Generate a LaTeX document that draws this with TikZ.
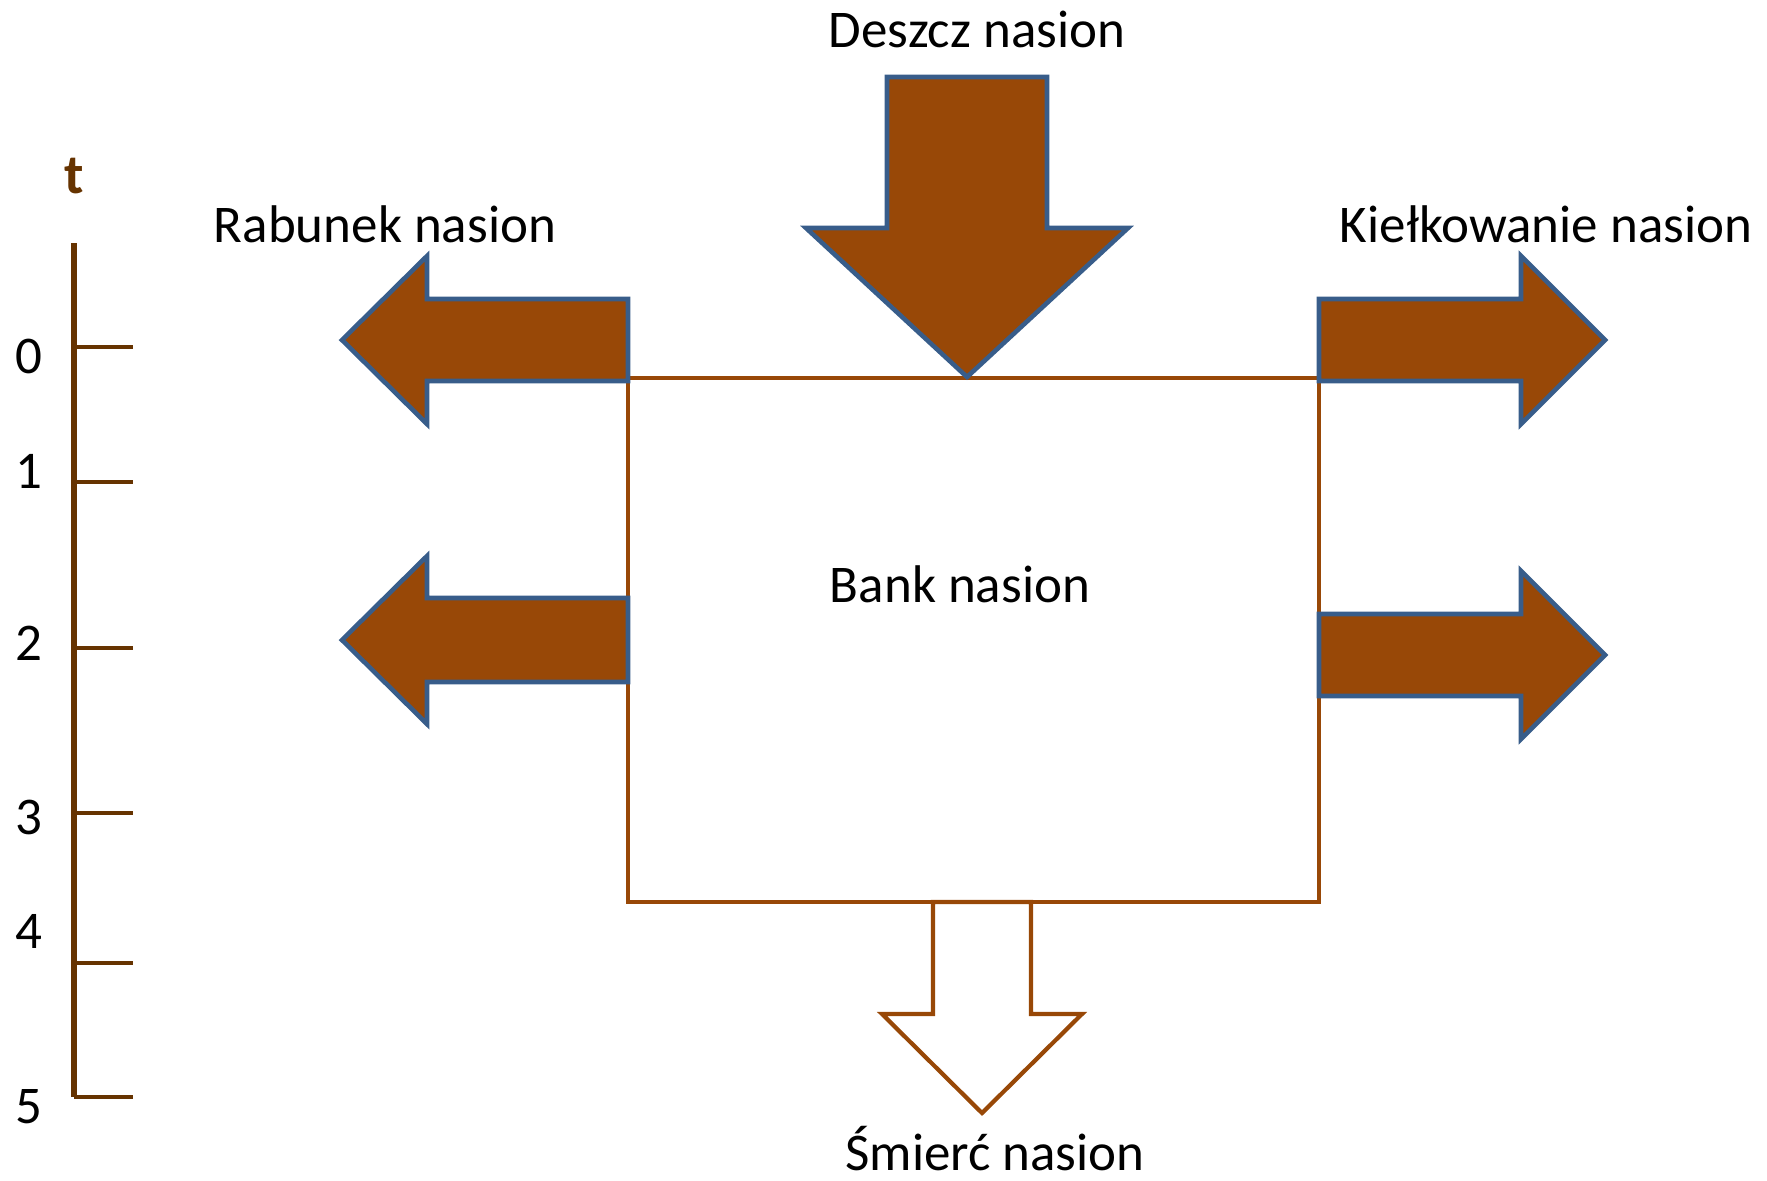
\documentclass[tikz,border=0pt]{standalone}
\usepackage{fontspec}
\setmainfont{Carlito}
\definecolor{braz}{HTML}{984807}
\definecolor{nieb}{HTML}{385D8A}
\definecolor{ciemny}{HTML}{663300}

\begin{document}
\begin{tikzpicture}[x=0.5pt,y=-0.5pt,line join=miter,font=\fontsize{26.5}{31}\selectfont]
    \tikzset{pelna/.style={draw=nieb,fill=braz,line width=2.3pt},
        pusta/.style={draw=braz,fill=white,line width=2.1pt},
        napis/.style={anchor=base,inner sep=0pt},
        os/.style={draw=ciemny,line width=2.8pt},
        kreska/.style={draw=ciemny,line width=2.2pt},
        pics/strzalka/.style n args={4}{code={\path[pic actions](0,-#1)--(#3,-#1)--(#3,-#2)--(#4,0)--(#3,#2)--(#3,#1)--(0,#1)--cycle;}}}
    \useasboundingbox (0,0) rectangle (1767,1180);

    % os czasu
    \draw[os] (74,243)--(74,1097);
    \foreach \y in {347,482,648,813,963,1097}{
        \draw[kreska] (74,\y)--(133,\y);}
    \foreach \y/\t in {373/0,488/1,660/2,834/3,948/4,1123/5}{
        \node[napis] (t\t) at (29,\y) {\t};}
    \node[napis,text=ciemny,font=\fontsize{28}{32}\selectfont\bfseries] (tt) at (74,193) {t};

    % bank
    \node[draw=braz,line width=2pt,minimum width=345.5pt,minimum height=262pt,inner sep=0pt,outer sep=0pt] (bank) at (973.5,640) {};
    \node[napis] (banktxt) at (960,602) {Bank nasion};

    % strzalki
    \pic[pelna,rotate=-90] (deszcz) at (967,77) {strzalka={80}{161}{151}{300}};
    \pic[pelna,rotate=180] (rab1) at (628,340) {strzalka={41}{84}{201}{286}};
    \pic[pelna,rotate=180] (rab2) at (628,640) {strzalka={42}{84}{201}{286}};
    \pic[pelna] (kie1) at (1319,340) {strzalka={41}{84}{202}{286}};
    \pic[pelna] (kie2) at (1319,655) {strzalka={41}{84}{202}{286}};
    \pic[pusta,rotate=-90] (smierc) at (982,902) {strzalka={49}{100}{112}{211}};

    \path (977,47)node[napis](deszczl){Deszcz nasion}
        (385,242)node[napis](rabl){Rabunek nasion}
        (1546,242)node[napis](kiel){Kiełkowanie nasion}
        (995,1170)node[napis](smiercl){Śmierć nasion};
\end{tikzpicture}
\end{document}
